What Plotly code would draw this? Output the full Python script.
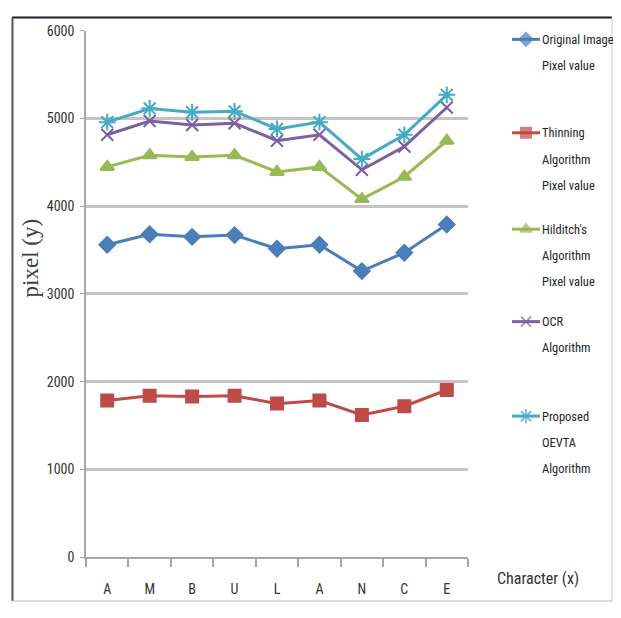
import plotly.graph_objects as go

# figure sized so the page, with the browser's 8px body margin, fits the 621x618 window
W, H = 605, 602
OX, OY = 8, 8  # page offset of the figure inside the window

categories = ["A", "M", "B", "U", "L", "A", "N", "C", "E"]
original = [3560, 3680, 3650, 3670, 3515, 3560, 3260, 3470, 3790]
thinning = [1785, 1840, 1830, 1840, 1750, 1785, 1620, 1720, 1905]
hilditch = [4447, 4580, 4560, 4580, 4390, 4447, 4080, 4335, 4745]
ocr = [4813, 4970, 4925, 4945, 4745, 4813, 4414, 4680, 5124]
proposed = [4957, 5113, 5070, 5080, 4880, 4957, 4536, 4813, 5268]

series_names = [
    ["Original Image", "Pixel value"],
    ["Thinning", "Algorithm", "Pixel value"],
    ["Hilditch's", "Algorithm", "Pixel value"],
    ["OCR", "Algorithm"],
    ["Proposed", "OEVTA", "Algorithm"],
]
y_ticks = [0, 1000, 2000, 3000, 4000, 5000, 6000]

series = [original, thinning, hilditch, ocr, proposed]
colors = ["#4A7EBB", "#BE4B48", "#98B954", "#7D60A0", "#46AAC5"]
symbols = ["diamond", "square", "triangle-up", "x-thin-open", "asterisk-open"]
msizes = [12, 12, 12, 12, 14]

NARROW = "Liberation Sans Narrow, Arial Narrow, Roboto Condensed, sans-serif"


def px(x):  # window pixel -> paper x
    return (x - OX) / W


def py(y):  # window pixel -> paper y
    return 1 - (y - OY) / H


x_idx = list(range(len(categories)))

fig = go.Figure()
for vals, name, c, s, ms in zip(series, series_names, colors, symbols, msizes):
    fig.add_trace(go.Scatter(
        x=x_idx, y=vals, mode="lines+markers", name=" ".join(name),
        line=dict(color=c, width=3),
        marker=dict(symbol=s, size=ms, color=c, line=dict(color=c, width=2)),
        showlegend=False, xaxis="x", yaxis="y",
    ))

# plot area in window pixels
px_l, px_r, px_t, px_b = 86, 468, 23, 564

# legend drawn on a window-pixel overlay axis
leg_first_y = [32, 128, 227, 322, 419]
line_gap = 27
for name, c, s, ms, y0 in zip(series_names, colors, symbols, msizes, leg_first_y):
    fig.add_trace(go.Scatter(
        x=[512, 526, 540], y=[y0, y0, y0], mode="lines+markers",
        line=dict(color=c, width=3),
        marker=dict(symbol=s, size=[0, ms - 2, 0], color=c, line=dict(color=c, width=2)),
        showlegend=False, xaxis="x2", yaxis="y2", hoverinfo="skip",
    ))
    for k, t in enumerate(name):
        fig.add_annotation(
            x=px(540), y=py(y0 + k * line_gap), xref="paper", yref="paper",
            text=t, showarrow=False, xanchor="left", yanchor="middle",
            font=dict(family=NARROW, size=12.5, color="#262626"),
        )

fig.add_annotation(
    x=px(30), y=py(257), xref="paper", yref="paper", text="pixel (y)",
    textangle=-90, showarrow=False, xanchor="center", yanchor="middle",
    font=dict(family="Liberation Serif, DejaVu Serif, serif", size=23, color="#404040"),
)
fig.add_annotation(
    x=px(538), y=py(586), xref="paper", yref="paper", text="Character (x)",
    showarrow=False, xanchor="center", yanchor="middle",
    font=dict(family=NARROW, size=16, color="#333333"),
)

# frame
top, bot, right = 9.5, OY + H - 1, OX + W - 1
fig.add_shape(type="line", xref="paper", yref="paper", x0=px(12), x1=px(right),
              y0=py(top), y1=py(top), line=dict(color="#202020", width=2))
fig.add_shape(type="line", xref="paper", yref="paper", x0=px(12.5), x1=px(12.5),
              y0=py(top), y1=py(bot), line=dict(color="#555555", width=2))
fig.add_shape(type="line", xref="paper", yref="paper", x0=px(12), x1=px(right),
              y0=py(bot), y1=py(bot), line=dict(color="#bbbbbb", width=1))
fig.add_shape(type="line", xref="paper", yref="paper", x0=px(right), x1=px(right),
              y0=py(top), y1=py(bot), line=dict(color="#cccccc", width=1))

fig.update_layout(
    width=W, height=H, margin=dict(l=0, r=0, t=0, b=0),
    paper_bgcolor="white", plot_bgcolor="rgba(0,0,0,0)",
    xaxis=dict(
        domain=[px(px_l), px(px_r)], range=[-0.5, len(categories) - 0.5],
        tickvals=x_idx, ticktext=categories, ticks="", showgrid=False,
        showline=True, linecolor="#a6a6a6", linewidth=1.5, zeroline=False,
        tickfont=dict(family=NARROW, size=14, color="#333333"),
        ticklabelstandoff=18,
        minor=dict(tickvals=[i - 0.5 for i in range(len(categories) + 1)],
                   ticks="outside", ticklen=8, tickcolor="#a6a6a6", tickwidth=1.5,
                   showgrid=False),
        fixedrange=True,
    ),
    yaxis=dict(
        domain=[py(px_b), py(px_t)], range=[0, 6000],
        tickvals=y_ticks, ticks="outside", ticklen=4, tickcolor="#a6a6a6",
        showgrid=True, gridcolor="#c4c4c4", gridwidth=2.5,
        showline=True, linecolor="#a6a6a6", linewidth=1.5, zeroline=False,
        tickfont=dict(family=NARROW, size=14, color="#333333"),
        ticklabelstandoff=3,
    ),
    xaxis2=dict(domain=[0, 1], range=[OX, OX + W], visible=False, anchor="y2"),
    yaxis2=dict(domain=[0, 1], range=[OY + H, OY], visible=False, anchor="x2"),
)

fig.write_html("out.html")
